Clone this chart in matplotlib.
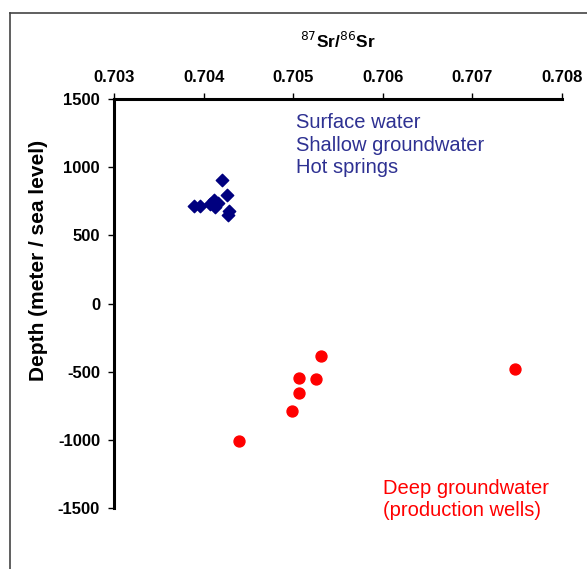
import matplotlib
matplotlib.use('Agg')
import matplotlib.pyplot as plt
from matplotlib.lines import Line2D

plt.rcParams['font.family'] = ['Liberation Sans', 'DejaVu Sans']
plt.rcParams['axes.unicode_minus'] = False

# shallow waters (surface water, shallow groundwater, hot springs)
shallow_sr = [0.70421, 0.70426, 0.70412, 0.70389, 0.70396, 0.70407, 0.70413, 0.70416, 0.70428, 0.70427]
shallow_depth = [909, 799, 760, 718, 718, 731, 706, 735, 682, 652]

# deep groundwater (production wells)
deep_sr = [0.70531, 0.70506, 0.70526, 0.70506, 0.70499, 0.70440, 0.70748]
deep_depth = [-386, -545, -552, -655, -792, -1012, -477]

xticks = [0.703, 0.704, 0.705, 0.706, 0.707, 0.708]
yticks = [-1500, -1000, -500, 0, 500, 1000, 1500]

fig = plt.figure(figsize=(5.87, 5.69), dpi=100)
ax = fig.add_axes([0.1942, 0.1072, 0.7632, 0.7188])

ax.scatter(shallow_sr, shallow_depth, marker='D', s=40, color='#00007F', zorder=3, clip_on=False)
ax.scatter(deep_sr, deep_depth, marker='o', s=62, color='#FF0000', zorder=3, clip_on=False)

ax.set_xlim(0.703, 0.708)
ax.set_ylim(-1500, 1500)
ax.set_xticks(xticks)
ax.set_xticklabels(['%.3f' % v for v in xticks])
ax.set_yticks(yticks)
ax.xaxis.tick_top()
ax.xaxis.set_label_position('top')

for s in ['right', 'bottom']:
    ax.spines[s].set_visible(False)
for s in ['top', 'left']:
    ax.spines[s].set_linewidth(2.2)

ax.tick_params(direction='out', length=4, width=1, labelsize=12, pad=6)
for lab in ax.get_xticklabels() + ax.get_yticklabels():
    lab.set_fontweight('bold')

ax.set_xlabel(r'$^{87}$Sr/$^{86}$Sr', fontsize=12.5, fontweight='bold', labelpad=16)
ax.set_ylabel('Depth (meter / sea level)', fontsize=15, fontweight='bold')
ax.yaxis.set_label_coords(-0.147, 0.606)

ax.text(0.70503, 1395, 'Surface water\nShallow groundwater\nHot springs',
        color='#2E3192', fontsize=14.5, va='top', ha='left', linespacing=1.22)
ax.text(0.7060, -1285, 'Deep groundwater\n(production wells)',
        color='#FF0000', fontsize=14.5, va='top', ha='left', linespacing=1.22)

# outer frame
fig.add_artist(Line2D([10 / 587, 1], [1 - 13 / 569, 1 - 13 / 569], color='#444444', lw=1.2))
fig.add_artist(Line2D([10 / 587, 10 / 587], [0, 1 - 13 / 569], color='#444444', lw=1.2))

fig.savefig('out.png', dpi=100)
